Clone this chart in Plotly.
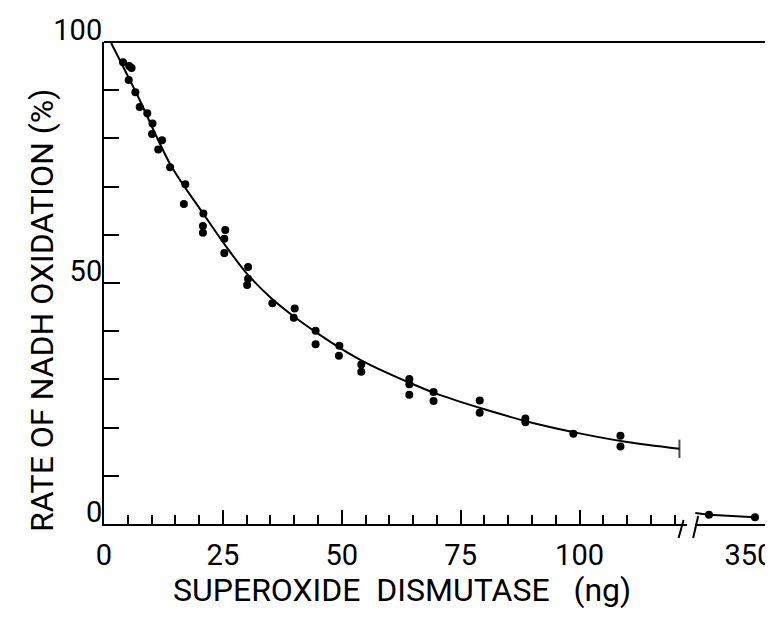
import plotly.graph_objects as go

# ---- data ----
# measured points (SOD ng, rate %)
pts_x = [4.0, 5.3, 5.8, 5.2, 6.6, 7.5, 9.1, 10.2, 10.1, 12.2, 11.4, 13.9,
         17.1, 16.8, 20.9, 20.8, 20.8, 25.5, 25.3, 25.3, 30.3, 30.3, 30.1,
         35.4, 40.1, 39.9, 44.5, 44.5, 49.5, 49.4, 54.1, 54.1,
         64.2, 64.2, 64.2, 69.3, 69.3, 79.0, 79.0, 88.6, 88.6, 98.7, 108.6, 108.6]
pts_y = [95.8, 95.0, 94.6, 92.1, 89.6, 86.5, 85.2, 83.1, 80.9, 79.6, 77.7, 74.0,
         70.5, 66.4, 64.4, 61.8, 60.4, 61.0, 59.2, 56.2, 53.3, 50.9, 49.6,
         45.8, 44.7, 42.8, 40.1, 37.3, 37.0, 34.9, 33.1, 31.6,
         30.1, 29.0, 26.8, 27.4, 25.5, 25.6, 23.1, 21.9, 21.1, 18.7, 18.3, 16.1]

# fitted curve read along its path
curve_x = [1.5, 7, 14, 21, 25.5, 30, 35, 40, 45, 50, 55, 65, 70, 80, 90, 100, 110, 121]
curve_y = [99.8, 89.0, 74.5, 64.2, 57.8, 52.0, 47.0, 43.0, 39.5, 36.3, 33.5,
           29.0, 27.0, 23.8, 21.0, 18.8, 17.0, 15.6]

# broken-axis segment
seg_pts_x = [300, 350]
seg_pts_y = [1.9, 1.4]
seg_curve_x = [285, 300, 350]
seg_curve_y = [2.3, 1.9, 1.4]

x_ticks = [0, 25, 50, 75, 100]
x2_ticks = [350]
y_ticks = [0, 50, 100]

FONT = "Roboto, Liberation Sans, sans-serif"

fig = go.Figure()

n = len(curve_x)
fig.add_trace(go.Scatter(
    x=curve_x, y=curve_y, mode="lines+markers",
    line=dict(color="black", width=2, shape="spline", smoothing=0.8),
    marker=dict(symbol=["circle"] * (n - 1) + ["line-ns"],
                size=[0] * (n - 1) + [13], color="black",
                line=dict(color="black", width=2)),
    hoverinfo="skip", showlegend=False, xaxis="x", yaxis="y"))

fig.add_trace(go.Scatter(
    x=pts_x, y=pts_y, mode="markers",
    marker=dict(color="black", size=8),
    showlegend=False, xaxis="x", yaxis="y"))

fig.add_trace(go.Scatter(
    x=seg_curve_x, y=seg_curve_y, mode="lines",
    line=dict(color="black", width=2),
    showlegend=False, xaxis="x2", yaxis="y"))

fig.add_trace(go.Scatter(
    x=seg_pts_x, y=seg_pts_y, mode="markers",
    marker=dict(color="black", size=8),
    showlegend=False, xaxis="x2", yaxis="y"))

tickfont = dict(family=FONT, size=29, color="black")

common_x = dict(showline=True, linecolor="black", linewidth=2, showgrid=False,
                zeroline=False, tickfont=tickfont, anchor="y",
                ticklabelstandoff=4, automargin=False,
                ticklabeloverflow="allow")

fig.update_layout(
    width=765, height=604,
    margin=dict(l=96, r=7, t=34, b=88, autoexpand=False),
    paper_bgcolor="white", plot_bgcolor="white",
    xaxis=dict(domain=[0, 0.880], range=[0, 122.5], tickvals=x_ticks,
               ticks="inside", ticklen=14, tickwidth=1.5, tickcolor="black",
               minor=dict(dtick=5, tick0=0, ticks="inside", ticklen=9,
                          tickwidth=1.5, tickcolor="black"),
               **common_x),
    xaxis2=dict(domain=[0.893, 1.0], range=[285, 362], tickvals=x2_ticks,
                ticks="", ticklabelshift=-6, **common_x),
    yaxis=dict(domain=[0, 1], range=[0, 100], tickvals=y_ticks,
               ticks="inside", ticklen=16, tickwidth=1.5, tickcolor="black",
               minor=dict(dtick=10, tick0=0, ticks="inside", ticklen=15,
                          tickwidth=1.5, tickcolor="black"),
               showline=True, linecolor="black", linewidth=2, showgrid=False,
               zeroline=False, tickfont=tickfont, anchor="x",
               ticklabelstandoff=-6, ticklabelshift=-12, automargin=False,
               ticklabeloverflow="allow"),
    shapes=[
        dict(type="line", xref="paper", yref="paper", x0=0, x1=1, y0=1, y1=1,
             line=dict(color="black", width=2)),
        dict(type="line", xref="paper", yref="paper", x0=1, x1=1, y0=0, y1=1,
             line=dict(color="black", width=2)),
        dict(type="line", xref="x domain", yref="y domain", xsizemode="pixel",
             ysizemode="pixel", xanchor=1, yanchor=0, x0=-8, x1=-3, y0=-14, y1=4,
             line=dict(color="black", width=2)),
        dict(type="line", xref="x2 domain", yref="y domain", xsizemode="pixel",
             ysizemode="pixel", xanchor=0, yanchor=0, x0=-2, x1=3, y0=-14, y1=8,
             line=dict(color="black", width=2)),
    ],
    annotations=[
        dict(text="RATE OF NADH OXIDATION (%)", xref="paper", yref="paper",
             x=-0.0937, y=0.444, textangle=-90, showarrow=False,
             font=dict(family=FONT, size=32, color="black"),
             xanchor="center", yanchor="middle"),
        dict(text="SUPEROXIDE\u00a0\u00a0DISMUTASE\u00a0\u00a0\u00a0(ng)",
             xref="paper", yref="paper", x=0.45, y=-0.137, showarrow=False,
             font=dict(family=FONT, size=32, color="black"),
             xanchor="center", yanchor="middle"),
    ],
)

fig.write_html("out.html")
